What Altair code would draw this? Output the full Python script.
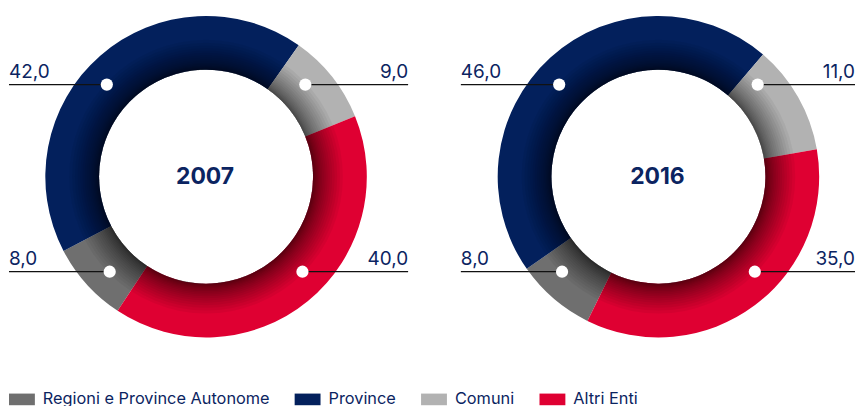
import math
import altair as alt
import pandas as pd

# ---- data ----
categories = ["Regioni e Province Autonome", "Province", "Comuni", "Altri Enti"]
colors = ["#6f6f6f", "#03205c", "#b2b2b2", "#df0032"]
years = ["2007", "2016"]
values_2007 = [8.0, 42.0, 9.0, 40.0]
values_2016 = [8.0, 46.0, 11.0, 35.0]

# clockwise drawing order (starting at the Province/Comuni boundary)
plot_order = ["Comuni", "Altri Enti", "Regioni e Province Autonome", "Province"]
start_deg = {"2007": 35.2, "2016": 40.6}
label_slot = {
    "Province": ("left", "top"),
    "Comuni": ("right", "top"),
    "Regioni e Province Autonome": ("left", "bottom"),
    "Altri Enti": ("right", "bottom"),
}

# ---- layout / style ----
NAVY = "#0b2461"
FONT = "Inter"
PW = {"2007": 401, "2016": 396}
H = 340
CY = 168.5
CX = {"2007": 198.0, "2016": 198.5}
R_OUT, R_IN = 161.5, 107.5
R_MID = 136.0
DY = {"top": -92.5, "bottom": 95.5}


def fmt(v):
    return f"{v:.1f}".replace(".", ",")


def donut(year, vals):
    cx = CX[year]
    W = PW[year]
    xs = alt.Scale(domain=[0, W], nice=False, zero=False)
    ys = alt.Scale(domain=[0, H], nice=False, zero=False, reverse=True)

    df = pd.DataFrame({"cat": categories, "val": vals})
    df["ord"] = [plot_order.index(c) for c in categories]
    a0 = math.radians(start_deg[year])

    ring = alt.Chart(df).mark_arc(radius=R_OUT, radius2=R_IN, strokeWidth=0).encode(
        theta=alt.Theta("val:Q", stack=True,
                        scale=alt.Scale(range=[a0, a0 + 2 * math.pi])),
        order=alt.Order("ord:Q"),
        color=alt.Color("cat:N",
                        scale=alt.Scale(domain=categories, range=colors),
                        legend=alt.Legend(title=None)),
        x=alt.value(cx),
        y=alt.value(CY),
    )

    # inner shadow of the ring
    one = pd.DataFrame({"k": [0]})
    n = 20
    alpha = 1 - (1 - 0.62) ** (1 / n)
    shades = []
    for i in range(n):
        w = 30 * ((i + 1) / n) ** 2
        shades.append(
            alt.Chart(one).mark_arc(radius=R_IN + w, radius2=R_IN, theta=0,
                                    theta2=2 * math.pi, color="black",
                                    opacity=alpha, strokeWidth=0)
            .encode(x=alt.value(cx), y=alt.value(CY))
        )

    rows = []
    for c, v in zip(categories, vals):
        side, level = label_slot[c]
        dy = DY[level]
        dx = math.sqrt(R_MID ** 2 - dy ** 2)
        dot_x = cx - dx if side == "left" else cx + dx
        dot_y = CY + dy
        rows.append({
            "cat": c, "side": side, "txt": fmt(v),
            "dx": dot_x, "dy": dot_y,
            "x0": 0 if side == "left" else dot_x,
            "x1": dot_x if side == "left" else W,
            "tx": 0 if side == "left" else W,
            "ty": dot_y - 7,
        })
    lab = pd.DataFrame(rows)

    rule = alt.Chart(lab).mark_rule(color="#111111", strokeWidth=1.2).encode(
        x=alt.X("x0:Q", scale=xs, axis=None),
        x2="x1:Q",
        y=alt.Y("dy:Q", scale=ys, axis=None),
    )
    dots = alt.Chart(lab).mark_circle(size=150, color="white", opacity=1).encode(
        x=alt.X("dx:Q", scale=xs, axis=None),
        y=alt.Y("dy:Q", scale=ys, axis=None),
    )
    tl = alt.Chart(lab).transform_filter(alt.datum.side == "left").mark_text(
        align="left", baseline="alphabetic", fontSize=19, font=FONT, color=NAVY
    ).encode(
        x=alt.X("tx:Q", scale=xs, axis=None),
        y=alt.Y("ty:Q", scale=ys, axis=None),
        text="txt:N",
    )
    tr = alt.Chart(lab).transform_filter(alt.datum.side == "right").mark_text(
        align="right", baseline="alphabetic", fontSize=19, font=FONT, color=NAVY
    ).encode(
        x=alt.X("tx:Q", scale=xs, axis=None),
        y=alt.Y("ty:Q", scale=ys, axis=None),
        text="txt:N",
    )
    center = alt.Chart(pd.DataFrame({"year": [year]})).mark_text(
        align="center", baseline="alphabetic", fontSize=23, fontWeight="bold",
        font=FONT, color=NAVY
    ).encode(x=alt.value(cx - 1), y=alt.value(CY + 7.5), text="year:N")

    return alt.layer(ring, *shades, rule, dots, tl, tr, center).properties(
        width=W, height=H
    )


chart = alt.hconcat(
    donut("2007", values_2007), donut("2016", values_2016), spacing=51
).properties(padding=0, background="white").configure_view(
    stroke=None
).configure_legend(
    orient="bottom",
    direction="horizontal",
    symbolType="M-1,-0.45H1V0.45H-1Z",
    symbolSize=676,
    symbolStrokeWidth=0,
    symbolOpacity=1,
    labelFontSize=16.4,
    labelFont=FONT,
    labelColor=NAVY,
    labelOffset=8,
    labelLimit=400,
    columnPadding=25,
    offset=39,
    padding=0,
)

chart.save("out.html", embed_options={"renderer": "svg", "actions": False})
